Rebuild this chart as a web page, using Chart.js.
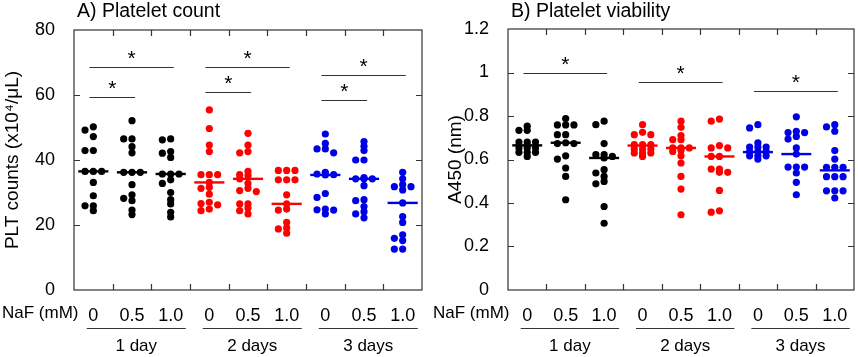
<!DOCTYPE html>
<html>
<head>
<meta charset="utf-8">
<script src="https://cdn.jsdelivr.net/npm/chart.js@4.4.0/dist/chart.umd.min.js"></script>
<style>
  html, body { margin: 0; padding: 0; background: #fff; }
  #wrap { position: relative; width: 858px; height: 357px; }
  .box { position: absolute; top: 0; width: 429px; height: 357px; }
</style>
</head>
<body>
<div id="wrap">
  <div class="box" style="left:0"><canvas id="chartA" width="429" height="357"></canvas></div>
  <div class="box" style="left:429px"><canvas id="chartB" width="429" height="357"></canvas></div>
</div>
<script>
// x categories: NaF concentration per group, and storage days
const nafLabels = ['0', '0.5', '1.0', '0', '0.5', '1.0', '0', '0.5', '1.0'];
const dayLabels = ['1 day', '2 days', '3 days'];

// A) platelet count (x10^4/uL), one list per group
const countData = [
    [50.2, 49.2, 47.2, 42.9, 42.9, 36.5, 36.5, 36.5, 33.1, 29.0, 25.9, 25.9, 24.4],
    [52.1, 46.5, 46.5, 44.1, 42.2, 36.2, 36.2, 36.2, 32.4, 29.3, 28.2, 27.5, 24.6, 23.2],
    [46.5, 46.2, 42.6, 42.1, 40.8, 35.7, 35.7, 35.7, 33.9, 32.8, 30.0, 27.8, 26.5, 23.9, 22.5],
    [55.4, 49.7, 44.6, 42.6, 35.5, 35.5, 35.5, 33.1, 31.6, 31.3, 29.5, 27.0, 26.6, 26.2, 24.9, 24.4],
    [48.2, 44.6, 42.6, 42.2, 36.5, 35.5, 35.2, 34.2, 32.8, 31.3, 30.6, 30.3, 26.5, 26.5, 25.2, 24.4, 23.4],
    [36.8, 36.8, 36.8, 33.9, 33.9, 33.9, 29.3, 26.5, 24.9, 24.6, 20.8, 19.1, 18.8, 17.5],
    [48.0, 45.1, 43.4, 43.4, 42.2, 36.2, 35.7, 35.5, 35.4, 29.7, 28.5, 24.9, 24.7, 24.6, 23.4],
    [45.7, 44.2, 42.9, 40.0, 40.0, 34.6, 34.2, 34.2, 34.2, 32.1, 27.8, 27.5, 25.7, 24.1, 23.4, 22.2],
    [36.2, 34.2, 32.4, 31.8, 31.8, 30.8, 26.8, 22.6, 20.8, 17.0, 15.9, 15.2, 12.6, 12.6]
];
const countMedians = [36.5, 36.2, 35.7, 33.1, 34.2, 26.5, 35.4, 34.2, 26.8];
const countTicks = [0, 20, 40, 60, 80];
const countSigFrom = [1, 1, 4, 4, 7, 7];
const countSigTo = [2, 3, 5, 6, 8, 9];
const countSigY = [59.5, 68.6, 60.9, 68.6, 58.6, 66.2];

// B) platelet viability (A450)
const viabilityData = [
    [0.753, 0.734, 0.734, 0.680, 0.680, 0.680, 0.665, 0.653, 0.653, 0.653, 0.633, 0.633, 0.633, 0.614],
    [0.788, 0.759, 0.759, 0.759, 0.714, 0.714, 0.677, 0.673, 0.673, 0.617, 0.602, 0.561, 0.522, 0.415],
    [0.776, 0.760, 0.673, 0.622, 0.622, 0.614, 0.607, 0.553, 0.538, 0.522, 0.499, 0.488, 0.384, 0.307],
    [0.760, 0.725, 0.714, 0.714, 0.668, 0.668, 0.668, 0.648, 0.648, 0.648, 0.630, 0.630, 0.630, 0.614],
    [0.776, 0.748, 0.710, 0.691, 0.691, 0.653, 0.653, 0.653, 0.642, 0.637, 0.617, 0.584, 0.522, 0.464, 0.346],
    [0.786, 0.776, 0.664, 0.653, 0.653, 0.614, 0.614, 0.556, 0.556, 0.541, 0.541, 0.458, 0.364, 0.358],
    [0.760, 0.745, 0.676, 0.657, 0.657, 0.657, 0.637, 0.637, 0.637, 0.617, 0.617, 0.617, 0.602],
    [0.796, 0.730, 0.724, 0.724, 0.706, 0.694, 0.653, 0.625, 0.565, 0.565, 0.565, 0.538, 0.495, 0.438],
    [0.760, 0.750, 0.730, 0.641, 0.602, 0.564, 0.564, 0.564, 0.521, 0.521, 0.521, 0.456, 0.456, 0.456, 0.423]
];
const viabilityMedians = [0.665, 0.677, 0.607, 0.664, 0.653, 0.614, 0.634, 0.625, 0.550];
const viabilityTicks = [0, 0.2, 0.4, 0.6, 0.8, 1, 1.2];
const viabilitySigFrom = [1, 4, 7];
const viabilitySigTo = [3, 6, 9];
const viabilitySigY = [1.0, 0.955, 0.917];

const dayColors = ['#000000', '#ff0000', '#0000e6'];
const FONT = "'Liberation Sans', Arial, sans-serif";

// simple 3-column beeswarm: first free column, else the least crowded one
function swarm(values, thr) {
    const placed = [];
    return values.map(v => {
        const cols = [0, -1, 1];
        const gap = c => Math.min(Infinity, ...placed.filter(p => p.c === c).map(p => Math.abs(p.v - v)));
        let col = cols.find(c => gap(c) >= thr);
        if (col === undefined) col = cols.reduce((best, c) => gap(c) > gap(best) ? c : best, 0);
        placed.push({ c: col, v: v });
        return col;
    });
}

const decorPlugin = {
    id: 'decor',
    beforeDatasetsDraw(chart) {
        const { ctx, chartArea: a, scales: { x, y } } = chart;
        ctx.save();
        ctx.strokeStyle = '#333';
        ctx.lineWidth = 1.2;
        ctx.strokeRect(a.left, a.top, a.right - a.left, a.bottom - a.top);
        ctx.beginPath();
        for (let i = 1; i < nafLabels.length; i++) {
            const px = Math.round(x.getPixelForValue(i + 0.5)) + 0.5;
            ctx.moveTo(px, a.top); ctx.lineTo(px, a.top + 6);
            ctx.moveTo(px, a.bottom); ctx.lineTo(px, a.bottom - 6);
        }
        y.ticks.forEach(t => {
            const py = Math.round(y.getPixelForValue(t.value)) + 0.5;
            if (py > a.top + 2 && py < a.bottom - 2) {
                ctx.moveTo(a.left, py); ctx.lineTo(a.left + 6, py);
                ctx.moveTo(a.right, py); ctx.lineTo(a.right - 6, py);
            }
        });
        ctx.stroke();
        ctx.restore();
    },
    afterDraw(chart, args, opts) {
        const { ctx, chartArea: a, scales: { x, y } } = chart;
        ctx.save();
        // panel title
        ctx.fillStyle = '#000';
        ctx.font = '19.5px ' + FONT;
        ctx.textBaseline = 'middle';
        ctx.textAlign = 'left';
        ctx.fillText(opts.title, a.left + 3, 12);

        // significance brackets
        ctx.strokeStyle = '#333';
        ctx.lineWidth = 1.2;
        ctx.font = '21px ' + FONT;
        ctx.textAlign = 'center';
        ctx.textBaseline = 'alphabetic';
        opts.sigFrom.forEach((g, k) => {
            const x1 = x.getPixelForValue(g - 0.1);
            const x2 = x.getPixelForValue(opts.sigTo[k] + 0.08);
            const py = Math.round(y.getPixelForValue(opts.sigY[k])) + 0.5;
            ctx.beginPath();
            ctx.moveTo(x1, py); ctx.lineTo(x2, py);
            ctx.stroke();
            ctx.fillText('*', (x1 + x2) / 2, py - 3);
        });

        // NaF label, day lines and day labels below the axis
        ctx.font = '17px ' + FONT;
        ctx.textBaseline = 'middle';
        ctx.textAlign = 'left';
        ctx.fillText('NaF (mM)', opts.nafX, 313);
        ctx.textAlign = 'center';
        dayLabels.forEach((lbl, d) => {
            const x1 = x.getPixelForValue(d * 3 + 1 - 0.17);
            const x2 = x.getPixelForValue(d * 3 + 3 + 0.39);
            ctx.beginPath();
            ctx.moveTo(x1, 328.5); ctx.lineTo(x2, 328.5);
            ctx.stroke();
            ctx.fillText(lbl, (x1 + x2) / 2, 346);
        });
        ctx.restore();
    }
};

function makeChart(canvasId, cfg) {
    const datasets = [];
    cfg.data.forEach((vals, i) => {
        const color = dayColors[Math.floor(i / 3)];
        const cols = swarm(vals, cfg.thr);
        datasets.push({
            data: vals.map((v, k) => ({ x: i + 1 + cols[k] * 0.215, y: v })),
            backgroundColor: color,
            borderWidth: 0,
            pointRadius: 3.6
        });
        datasets.push({
            data: [{ x: i + 0.61, y: cfg.medians[i] }, { x: i + 1.39, y: cfg.medians[i] }],
            showLine: true,
            borderColor: color,
            borderWidth: 2.4,
            pointRadius: 0
        });
    });

    return new Chart(document.getElementById(canvasId), {
        type: 'scatter',
        data: { datasets: datasets },
        plugins: [decorPlugin],
        options: {
            responsive: false,
            animation: false,
            devicePixelRatio: 1,
            layout: { padding: { top: cfg.top, right: cfg.right, bottom: 0, left: 0 } },
            plugins: {
                legend: { display: false },
                tooltip: { enabled: false },
                decor: { title: cfg.title, sigFrom: cfg.sigFrom, sigTo: cfg.sigTo, sigY: cfg.sigY, nafX: cfg.nafX }
            },
            scales: {
                x: {
                    type: 'linear',
                    min: 0.5,
                    max: 9.5,
                    afterBuildTicks: s => { s.ticks = nafLabels.map((_, i) => ({ value: i + 1 })); },
                    afterFit: s => { s.height = 67; },
                    grid: { display: false },
                    border: { display: false },
                    ticks: {
                        callback: v => nafLabels[v - 1],
                        autoSkip: false,
                        maxRotation: 0,
                        padding: 7,
                        color: '#000',
                        font: { family: FONT, size: 18 }
                    }
                },
                y: {
                    min: cfg.ticks[0],
                    max: cfg.ticks[cfg.ticks.length - 1],
                    afterBuildTicks: s => { s.ticks = cfg.ticks.map(v => ({ value: v })); },
                    afterFit: s => { s.width = cfg.axisW; },
                    grid: { display: false },
                    border: { display: false },
                    ticks: {
                        callback: v => String(v),
                        padding: 11,
                        color: '#000',
                        font: { family: FONT, size: 18 }
                    },
                    title: {
                        display: true,
                        text: cfg.yTitle,
                        color: '#000',
                        padding: { top: cfg.titlePad, bottom: 0 },
                        font: { family: FONT, size: 19 }
                    }
                }
            }
        }
    });
}

makeChart('chartA', {
    data: countData, medians: countMedians, ticks: countTicks, thr: 1.25,
    sigFrom: countSigFrom, sigTo: countSigTo, sigY: countSigY,
    title: 'A) Platelet count', yTitle: 'PLT counts (x10\u2074/\u03bcL)',
    top: 30, right: 7, axisW: 74, titlePad: 1, nafX: 2
});

makeChart('chartB', {
    data: viabilityData, medians: viabilityMedians, ticks: viabilityTicks, thr: 0.0185,
    sigFrom: viabilitySigFrom, sigTo: viabilitySigTo, sigY: viabilitySigY,
    title: 'B) Platelet viability', yTitle: 'A450 (nm)',
    top: 29, right: 2, axisW: 79, titlePad: 15, nafX: 4
});
</script>
</body>
</html>
